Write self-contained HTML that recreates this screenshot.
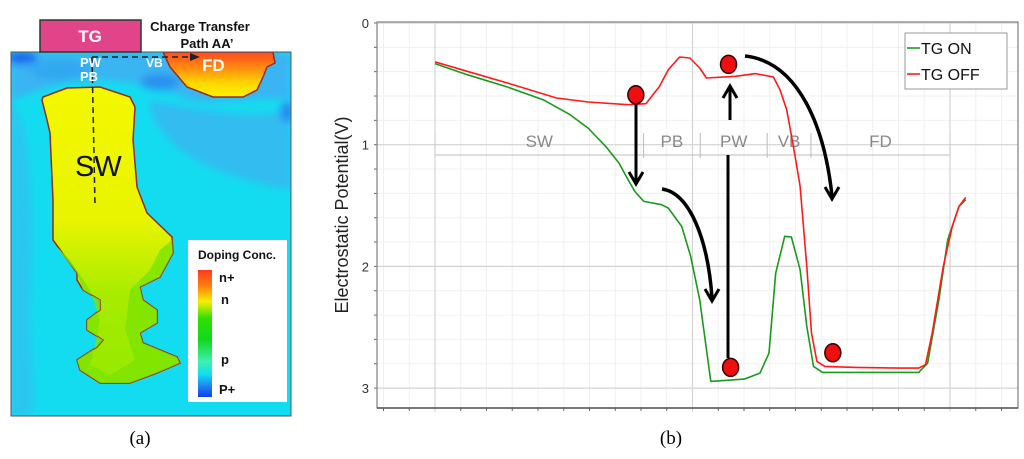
<!DOCTYPE html>
<html><head><meta charset="utf-8">
<style>
html,body{margin:0;padding:0;background:#fff;}
body{width:1024px;height:459px;overflow:hidden;position:relative;font-family:"Liberation Sans",sans-serif;}
svg{position:absolute;left:0;top:0;}
</style></head>
<body>
<svg width="1024" height="459" viewBox="0 0 1024 459">
<defs>
<filter id="blur3"><feGaussianBlur stdDeviation="4"/></filter>
<linearGradient id="swgrad" x1="0" y1="0" x2="0" y2="1">
<stop offset="0" stop-color="#f4f800"/><stop offset="0.45" stop-color="#e8f400"/><stop offset="0.7" stop-color="#a8ec00"/><stop offset="1" stop-color="#96e800"/>
</linearGradient>
<linearGradient id="fdgrad" x1="0" y1="0" x2="0" y2="1">
<stop offset="0" stop-color="#ff4a20"/><stop offset="0.35" stop-color="#ff8a10"/><stop offset="0.7" stop-color="#ffd800"/><stop offset="1" stop-color="#f8f200"/>
</linearGradient>
<linearGradient id="cbar" x1="0" y1="0" x2="0" y2="1">
<stop offset="0" stop-color="#ff3a20"/><stop offset="0.12" stop-color="#ff7a10"/><stop offset="0.25" stop-color="#f4f000"/><stop offset="0.38" stop-color="#30e000"/><stop offset="0.55" stop-color="#10d820"/><stop offset="0.72" stop-color="#40f0b0"/><stop offset="0.82" stop-color="#10e0f0"/><stop offset="0.9" stop-color="#2090f0"/><stop offset="1" stop-color="#1040f0"/>
</linearGradient>
<clipPath id="mapclip"><rect x="11" y="52" width="280" height="364"/></clipPath>
</defs>

<!-- Panel (a) -->
<g>
<g clip-path="url(#mapclip)">
<rect x="11" y="52" width="280" height="364" fill="#14dcf0"/>
<g filter="url(#blur3)">
<path d="M11 52 H291 V100 C240 95 200 110 180 95 C150 85 120 80 100 80 C60 80 40 90 11 100 Z" fill="#3bb4f2"/>
<path d="M11 100 C30 120 35 200 30 300 C28 350 40 400 30 416 H11 Z" fill="#2cc6f0"/>
<path d="M150 100 C200 110 250 120 291 110 V190 C240 180 210 170 180 150 C160 130 150 120 150 100 Z" fill="#30bcf0"/>
<ellipse cx="22" cy="58" rx="16" ry="6" fill="#1a60f0"/>
<ellipse cx="160" cy="82" rx="20" ry="8" fill="#2a90f0"/>
<ellipse cx="287" cy="112" rx="6" ry="10" fill="#2a80f0"/>
<ellipse cx="60" cy="70" rx="30" ry="10" fill="#30a8f0"/>
</g>
<path d="M43 97 L67 88 L100 87 L130 97 L135 107 L133 140 L137 187 L147 213 L172 237 L173 253 L160 277 L140 287 L143 300 L157 310 L157 323 L140 333 L143 343 L177 357 L180 363 L157 373 L130 383 L100 383 L80 370 L77 360 L97 347 L103 340 L87 330 L87 320 L100 310 L100 300 L83 290 L77 280 L77 273 L53 240 L53 200 L50 133 L47 120 L42 100 Z" fill="url(#swgrad)" stroke="#9a2a1a" stroke-width="1.5"/>
<path d="M55 245 L77 273 L83 290 L100 300 L100 310 L87 320 L87 330 L103 340 L97 347 L77 360 L80 370 L100 383 L130 383 L157 373 L180 363 L177 357 L143 343 L140 333 L157 323 L157 310 L143 300 L140 287 L160 277 L173 253 L172 240 L160 250 L150 270 L130 290 L125 330 L135 360 L110 375 L90 365 L95 345 L100 320 L90 290 L70 260 Z" fill="#7ce400" opacity="0.8"/>
<path d="M163 52 L273 52 L275 63 L267 67 L263 77 L257 90 L243 97 L213 97 L187 87 L170 67 Z" fill="url(#fdgrad)" stroke="#9a2a1a" stroke-width="1.5"/>
<line x1="92" y1="57" x2="95" y2="205" stroke="#222" stroke-width="1.5" stroke-dasharray="6,4"/>
<line x1="92" y1="57" x2="192" y2="57" stroke="#222" stroke-width="1.5" stroke-dasharray="6,4"/>
<path d="M190 53 L200 57 L190 61 Z" fill="#222"/>
<text x="80" y="67" font-size="13" font-weight="bold" fill="#fff">PW</text>
<text x="80" y="81" font-size="13" font-weight="bold" fill="#fff">PB</text>
<text x="146" y="67" font-size="12" font-weight="bold" fill="#fff">VB</text>
<text x="202" y="71" font-size="17" font-weight="bold" fill="#fff">FD</text>
<text x="75" y="176" font-size="29" fill="#111">SW</text>
<g>
<rect x="188" y="240" width="99" height="162" fill="#fff"/>
<text x="198" y="259" font-size="12" font-weight="bold" fill="#111">Doping Conc.</text>
<rect x="198" y="270" width="14" height="127" fill="url(#cbar)"/>
<text x="219" y="282" font-size="13" font-weight="bold" fill="#111">n+</text>
<text x="221" y="304" font-size="13" font-weight="bold" fill="#111">n</text>
<text x="221" y="364" font-size="13" font-weight="bold" fill="#111">p</text>
<text x="219" y="394" font-size="13" font-weight="bold" fill="#111">P+</text>
</g>
</g>
<rect x="11" y="52" width="280" height="364" fill="none" stroke="#555" stroke-width="1"/>
<rect x="40" y="20" width="101" height="32" fill="#e2448a" stroke="#2a3a2a" stroke-width="1.5"/>
<text x="90" y="42" font-size="17" fill="#fff" text-anchor="middle" font-weight="bold">TG</text>
<text x="200" y="31" font-size="13" font-weight="bold" fill="#111" text-anchor="middle">Charge Transfer</text>
<text x="207" y="48" font-size="13" font-weight="bold" fill="#111" text-anchor="middle">Path AA’</text>
</g>
<text x="140" y="444" font-size="19" font-family="Liberation Serif, serif" text-anchor="middle">(a)</text>

<!-- Panel (b) -->
<g id="chart"></g>
<text x="671" y="444" font-size="19" font-family="Liberation Serif, serif" text-anchor="middle">(b)</text>
</svg>

<script>
// Data (x in position units, y in volts)
const xTicks = [0, 1, 2];
const yTicks = [0, 1, 2, 3];
const offX = [0,0.125,0.281,0.472,0.594,0.75,0.819,0.872,0.906,0.95,0.99,1.028,1.054,1.167,1.245,1.314,1.34,1.366,1.392,1.418,1.444,1.462,1.483,1.514,1.635,1.809,1.878,1.905,1.931,1.974,2.009,2.035,2.061];
const offV = [0.32,0.397,0.493,0.616,0.649,0.671,0.663,0.521,0.384,0.279,0.288,0.37,0.452,0.438,0.416,0.444,0.548,0.712,1.014,1.342,2.0,2.548,2.781,2.822,2.83,2.836,2.836,2.808,2.548,2.0,1.671,1.507,1.433];
const onX = [0,0.125,0.281,0.42,0.524,0.594,0.663,0.715,0.75,0.776,0.811,0.88,0.906,0.958,0.993,1.028,1.071,1.201,1.262,1.297,1.323,1.358,1.384,1.418,1.444,1.47,1.505,1.635,1.878,1.913,1.957,1.991,2.035,2.061];
const onV = [0.334,0.425,0.526,0.63,0.753,0.863,1.014,1.153,1.288,1.384,1.466,1.493,1.521,1.671,1.918,2.274,2.945,2.926,2.877,2.712,2.055,1.753,1.759,2.027,2.493,2.822,2.871,2.871,2.871,2.795,2.274,1.781,1.507,1.452];
const dotX = [0.78, 1.14, 1.148, 1.545];
const dotV = [0.59, 0.34, 2.83, 2.71];
const regions = ["SW","PB","PW","VB","FD"];
const regionBounds = [0, 0.81, 1.03, 1.29, 1.46, 2.0];

const NS = "http://www.w3.org/2000/svg";
const X0 = 435, XS = 257.5, Y0 = 23, YS = 121.7;
const L = 377, R = 1018, T = 22, B = 408;
function sx(v){ return X0 + v*XS; }
function sy(v){ return Y0 + v*YS; }
const g = document.getElementById('chart');
function mk(tag, attrs, parent){
  const e = document.createElementNS(NS, tag);
  for (const k in attrs) e.setAttribute(k, attrs[k]);
  (parent||g).appendChild(e);
  return e;
}
// minor grid
for (let v = -0.2; v <= 2.3; v += 0.1){
  const x = sx(v); if (x < L || x > R) continue;
  mk('line',{x1:x,y1:T,x2:x,y2:B,stroke:'#f0f0f0','stroke-width':1});
  mk('line',{x1:x,y1:B,x2:x,y2:B+3,stroke:'#666','stroke-width':1});
}
for (let v = 0; v <= 3.2; v += 0.2){
  const y = sy(v); if (y > B) continue;
  mk('line',{x1:L,y1:y,x2:R,y2:y,stroke:'#f0f0f0','stroke-width':1});
  mk('line',{x1:L-3,y1:y,x2:L,y2:y,stroke:'#666','stroke-width':1});
}
// major grid
xTicks.forEach(v=>{
  const gl = mk('line',{x1:sx(v),y1:T,x2:sx(v),y2:B+4,stroke:'#d4d4d4','stroke-width':1.2});
  
  
});
yTicks.forEach(v=>{
  const gl = mk('line',{x1:L,y1:sy(v),x2:R,y2:sy(v),stroke:'#d4d4d4','stroke-width':1.2});
  
  
  const t = mk('text',{x:L-8,y:sy(v)+5,'font-size':13,'text-anchor':'end',fill:'#333'});
  t.textContent = v;
  
  
});
// axes
const ax = mk('path',{d:`M${L} ${T} H${R} V${B} H${L} Z`,fill:'none',stroke:'#888','stroke-width':1.3});


mk('line',{x1:L,y1:B,x2:R,y2:B,stroke:'#555','stroke-width':1.5});
// y axis title
const yt = mk('text',{x:0,y:0,'font-size':18,'text-anchor':'middle',fill:'#222',transform:'translate(348,215) rotate(-90)'});
yt.textContent = 'Electrostatic Potential(V)';


// region dimension annotation
const dimY = 155;
mk('line',{x1:sx(regionBounds[0]),y1:dimY,x2:sx(regionBounds[5]),y2:dimY,stroke:'#bbb','stroke-width':1});
regionBounds.forEach((b,i)=>{
  if (i===0 || i===5){ mk('line',{x1:sx(b),y1:dimY-22,x2:sx(b),y2:dimY+3,stroke:'#ccc','stroke-width':1}); return; }
  mk('line',{x1:sx(b),y1:dimY-22,x2:sx(b),y2:dimY+3,stroke:'#bbb','stroke-width':1});
});
regions.forEach((r,i)=>{
  const cx = (sx(regionBounds[i]) + sx(regionBounds[i+1]))/2;
  const t = mk('text',{x:cx,y:dimY-8,'font-size':17,'text-anchor':'middle',fill:'#888'});
  t.textContent = r;
  
  
});
// series
function line(xs, vs, color, name){
  let d = '';
  xs.forEach((x,i)=>{ d += (i?'L':'M') + sx(x).toFixed(1) + ' ' + sy(vs[i]).toFixed(1) + ' '; });
  const p = mk('path',{d:d,fill:'none',stroke:color,'stroke-width':1.6,'stroke-linejoin':'round'});
  
  
}
line(onX, onV, '#1a9a1a', 'tg-on-line');
line(offX, offV, '#ff1a1a', 'tg-off-line');
// arrows
function arrowHead(x,y,dir){
  const s=7,l=12;
  const d = dir==='down' ? `M${x-s} ${y-l} L${x} ${y} L${x+s} ${y-l}` : `M${x-s} ${y+l} L${x} ${y} L${x+s} ${y+l}`;
  mk('path',{d:d,fill:'none',stroke:'#000','stroke-width':3});
}
const a1 = mk('line',{x1:636,y1:102,x2:636,y2:182,stroke:'#000','stroke-width':3});
 
arrowHead(636,184,'down');
const a2 = mk('line',{x1:730,y1:120,x2:730,y2:88,stroke:'#000','stroke-width':3});
 
arrowHead(730,86,'up');
const a3 = mk('line',{x1:728,y1:155,x2:728,y2:358,stroke:'#000','stroke-width':3});
 
const c1 = mk('path',{d:'M662 189 C690 193 708 240 712 298',fill:'none',stroke:'#000','stroke-width':3.5});
 
arrowHead(712,301,'down');
const c2 = mk('path',{d:'M745 56 C800 62 825 130 832 196',fill:'none',stroke:'#000','stroke-width':3.5});
 
arrowHead(832,199,'down');
// dots
dotX.forEach((x,i)=>{
  const c = mk('ellipse',{cx:sx(x),cy:sy(dotV[i]),rx:8,ry:9,fill:'#ee1010',stroke:'#300','stroke-width':1.5});
  
  
});
// legend
const lg = mk('g',{});


mk('rect',{x:905,y:33,width:102,height:56,fill:'#fff',stroke:'#999','stroke-width':1},lg);
mk('line',{x1:907,y1:48,x2:920,y2:48,stroke:'#1a9a1a','stroke-width':1.6},lg);
const t1 = mk('text',{x:921,y:54,'font-size':16,fill:'#111'},lg); t1.textContent='TG ON';
 
mk('line',{x1:907,y1:74,x2:920,y2:74,stroke:'#ff1a1a','stroke-width':1.6},lg);
const t2 = mk('text',{x:921,y:80,'font-size':16,fill:'#111'},lg); t2.textContent='TG OFF';
 
</script>
</body></html>
